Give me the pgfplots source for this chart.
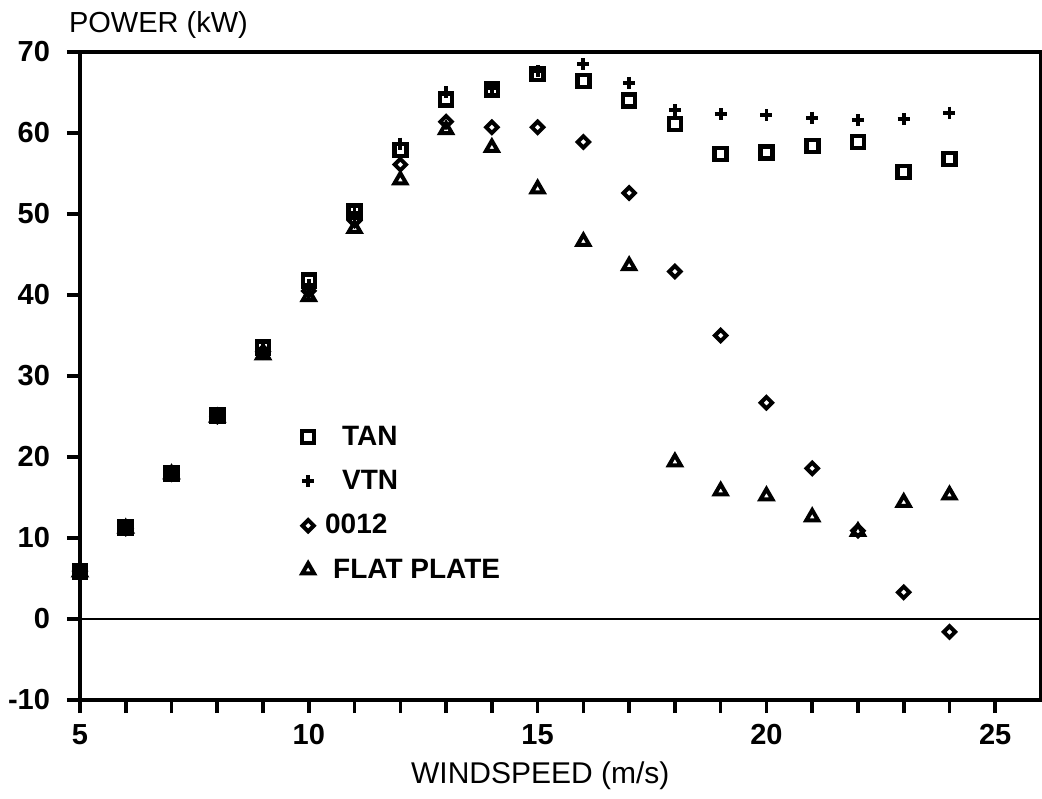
\documentclass[border=0pt]{standalone}
\usepackage{pgfplots}
\pgfplotsset{compat=1.18}
\usepackage{fontspec}
\setmainfont{Liberation Sans}
\begin{document}
\begin{tikzpicture}
\begin{axis}[
  scale only axis,
  width=480.5pt, height=324pt,
  xmin=5, xmax=26, ymin=-10, ymax=70,
  xtick={5,10,15,20,25},
  minor xtick={6,7,8,9,11,12,13,14,16,17,18,19,21,22,23,24},
  ytick={-10,0,10,20,30,40,50,60,70},
  tick align=outside,
  xtick pos=bottom, ytick pos=left,
  major tick length=6.5pt, minor tick length=6.5pt,
  every tick/.style={black, line width=1.8pt},
  axis line style={line width=2pt},
  /pgf/number format/assume math mode=true,
  tick label style={font=\fontsize{14.5}{17}\selectfont\bfseries},
  yticklabel style={xshift=-5pt},
  xticklabel style={yshift=-2pt},
  every axis y label/.style={at={(rel axis cs:0,1)}, anchor=base west, xshift=-9pt, yshift=9.5pt, font=\fontsize{14.5}{17}\selectfont},
  ylabel={POWER (kW)},
  every axis x label/.style={at={(axis description cs:0.479,0)}, anchor=base, yshift=-41.5pt, font=\fontsize{15}{18}\selectfont},
  xlabel={WINDSPEED (m/s)},
  legend style={at={(0.2245,0.436)}, anchor=north west, draw=none, fill=none,
    font=\fontsize{14}{17}\selectfont\bfseries, row sep=7pt, cells={anchor=west}},
  clip=false,
]
\draw[line width=1.1pt] (axis cs:5,0) -- (axis cs:26,0);
\addplot[only marks, black, mark=square, mark size=3.0pt, mark options={line width=2.3pt}] coordinates {
(5,5.9)(6,11.3)(7,18.0)(8,25.1)(9,33.5)(10,41.8)(11,50.3)(12,57.9)(13,64.1)(14,65.4)
(15,67.3)(16,66.4)(17,64.0)(18,61.1)(19,57.4)(20,57.6)(21,58.4)(22,58.9)(23,55.2)(24,56.8)};
\addlegendentry{\hspace{12pt}TAN}
\addplot[only marks, black, mark=+, mark size=3pt, mark options={line width=1.9pt}] coordinates {
(5,5.9)(6,11.3)(7,18.0)(8,25.1)(9,33.2)(10,41.2)(11,50.1)(12,58.7)(13,65.0)(14,65.6)
(15,67.6)(16,68.5)(17,66.2)(18,62.8)(19,62.3)(20,62.2)(21,61.9)(22,61.6)(23,61.7)(24,62.5)};
\addlegendentry{\hspace{12pt}VTN}
\addplot[only marks, black, mark=square, mark size=2.0pt, mark options={rotate=45, line width=2pt}] coordinates {
(5,5.9)(6,11.2)(7,17.9)(8,25.0)(9,33.0)(10,40.5)(11,49.2)(12,56.1)(13,61.4)(14,60.7)
(15,60.7)(16,58.9)(17,52.6)(18,42.9)(19,35.0)(20,26.7)(21,18.6)(22,10.9)(23,3.3)(24,-1.6)};
\addlegendentry{\hspace{3.5pt}0012}
\addplot[only marks, black, mark=triangle, mark size=3.4pt, mark options={line width=2pt}] coordinates {
(5,5.8)(6,11.2)(7,17.9)(8,24.9)(9,32.6)(10,39.8)(11,48.2)(12,54.2)(13,60.4)(14,58.2)
(15,53.1)(16,46.6)(17,43.6)(18,19.4)(19,15.8)(20,15.2)(21,12.6)(22,10.8)(23,14.4)(24,15.3)};
\addlegendentry{\hspace{7.5pt}FLAT PLATE}
\end{axis}
\pgfresetboundingbox
\path ([shift={(-40pt,-49pt)}]current axis.south west) rectangle ([shift={(0.5pt,26pt)}]current axis.north east);
\end{tikzpicture}
\end{document}
